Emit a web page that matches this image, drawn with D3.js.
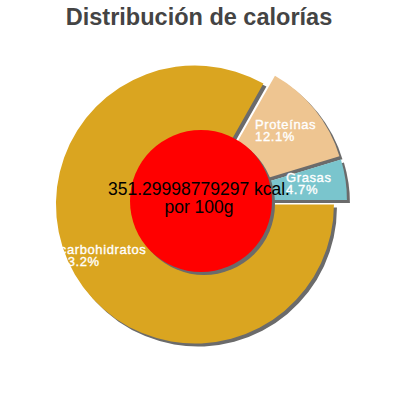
<!DOCTYPE html>
<html lang="es">
<head>
    <meta charset="UTF-8">
    <title>Distribución de calorías</title>
    <script src="https://d3js.org/d3.v7.min.js"></script>
    <style>
        body { margin: 0; background: #fff; }
        text { font-family: "Liberation Sans", Arial, sans-serif; }
    </style>
</head>
<body>
    <div id="chart"></div>
    <script>
        // data
        const categories = ["carbohidratos", "Proteínas", "Grasas"];
        const percents = [83.2, 12.1, 4.7];
        const colors = ["#DAA520", "#EEC591", "#7AC5CD"];
        const kcalText = "351.29998779297 kcal.";
        const perText = "por 100g";
        const title = "Distribución de calorías";

        const width = 400;
        const height = 400;
        const cx = 201, cy = 201;
        const radius = 139;
        const explode = 7;
        const shadow = 3;

        const svg = d3.select("#chart").append("svg")
            .attr("width", width)
            .attr("height", height);

        svg.append("text")
            .attr("x", 199)
            .attr("y", 25)
            .attr("text-anchor", "middle")
            .style("font-size", "23.5px")
            .style("font-weight", "bold")
            .style("fill", "#444")
            .text(title);

        const slices = categories.map((c, i) => ({ name: c, value: percents[i], color: colors[i] }));

        // start at 3 o'clock, clockwise
        const pie = d3.pie()
            .sort(null)
            .value(d => d.value)
            .startAngle(Math.PI / 2)
            .endAngle(Math.PI / 2 + 2 * Math.PI);

        const arc = d3.arc().innerRadius(0).outerRadius(radius);
        const labelArc = d3.arc().innerRadius(104).outerRadius(104);

        const arcs = pie(slices);

        const offset = d => {
            const mid = (d.startAngle + d.endAngle) / 2;
            return [explode * Math.sin(mid), -explode * Math.cos(mid)];
        };

        const g = svg.append("g").attr("transform", `translate(${cx},${cy})`);

        // shadows first
        g.selectAll("path.shadow")
            .data(arcs)
            .enter().append("path")
            .attr("class", "shadow")
            .attr("d", arc)
            .attr("fill", "#6b6b6b")
            .attr("transform", d => {
                const [ox, oy] = offset(d);
                return `translate(${ox + shadow},${oy + shadow})`;
            });

        g.selectAll("path.slice")
            .data(arcs)
            .enter().append("path")
            .attr("class", "slice")
            .attr("d", arc)
            .attr("fill", d => d.data.color)
            .attr("transform", d => {
                const [ox, oy] = offset(d);
                return `translate(${ox},${oy})`;
            });

        // labels: two left aligned lines, block centred on the arc point
        arcs.forEach(d => {
            const [ox, oy] = offset(d);
            const [lx, ly] = labelArc.centroid(d);
            const lab = g.append("g");
            const t1 = lab.append("text")
                .attr("y", ly + oy - 3)
                .text(d.data.name);
            const t2 = lab.append("text")
                .attr("y", ly + oy + 9)
                .text(d.data.value.toFixed(1) + "%");
            lab.selectAll("text")
                .style("font-size", "13px")
                .style("letter-spacing", "0.6px")
                .style("fill", "#fff")
                .style("stroke", "#fff")
                .style("stroke-width", "0.35px");
            const w = Math.max(t1.node().getComputedTextLength(), t2.node().getComputedTextLength());
            lab.selectAll("text").attr("x", lx + ox - w / 2 - 2);
        });

        // centre disc
        g.append("circle")
            .attr("cx", shadow)
            .attr("cy", shadow)
            .attr("r", 71)
            .attr("fill", "#6b6b6b");
        g.append("circle")
            .attr("r", 71)
            .attr("fill", "#FF0000");

        g.append("text")
            .attr("x", -2)
            .attr("y", -6)
            .attr("text-anchor", "middle")
            .style("font-size", "17.5px")
            .style("fill", "#000")
            .text(kcalText);
        g.append("text")
            .attr("x", -2)
            .attr("y", 12)
            .attr("text-anchor", "middle")
            .style("font-size", "17.5px")
            .style("fill", "#000")
            .text(perText);
    </script>
</body>
</html>
